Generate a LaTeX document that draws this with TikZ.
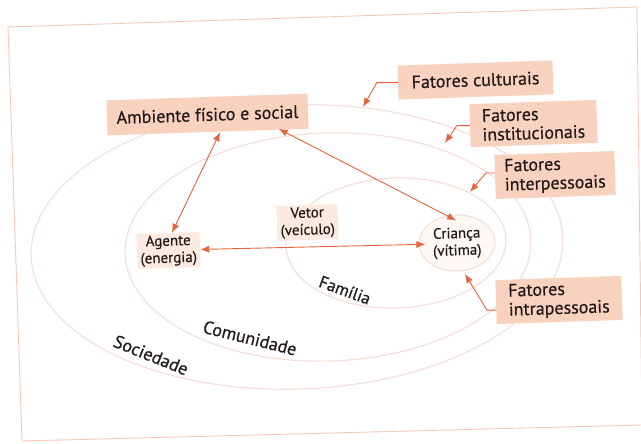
\documentclass[tikz,border=0pt]{standalone}
\usepackage{fontspec}
\setmainfont{PT Sans}[FakeBold=0.5]
\usetikzlibrary{arrows.meta,shapes.geometric}
\definecolor{boxfill}{HTML}{F8D2BF}
\definecolor{palefill}{HTML}{FCEAE0}
\definecolor{ringcol}{HTML}{F5E0D9}
\definecolor{framecol}{HTML}{F4C8B8}
\definecolor{arrowcol}{HTML}{E5643C}
\definecolor{txt}{HTML}{221A1A}
\begin{document}
\begin{tikzpicture}[x=1pt,y=-1pt,
  bigbox/.style={fill=boxfill,text=txt,rotate=1.9,inner xsep=6pt,inner ysep=3pt,align=left,
    font=\fontsize{18}{19}\selectfont},
  smallbox/.style={fill=palefill,text=txt,rotate=1.9,inner sep=2pt,align=center,
    font=\fontsize{15}{17}\selectfont},
  ring/.style={draw=ringcol,line width=1.2pt},
  ringlabel/.style={text=txt,font=\fontsize{18}{20}\selectfont,inner sep=0pt},
  arr/.style={draw=arrowcol,line width=0.9pt,-{Latex[length=9pt,width=7pt]}},
  dbl/.style={draw=arrowcol,line width=0.9pt,{Latex[length=9pt,width=7pt]}-{Latex[length=9pt,width=7pt]}}]
\useasboundingbox (0,0) rectangle (641,444);
\fill[white] (0,0) rectangle (641,444);
\begin{scope}
  \clip (0,0) rectangle (641,444);
  \draw[framecol,line width=0.9pt] (8,27) -- (637,7) -- (642,425) -- (22,441) -- cycle;
\end{scope}
% rings
\draw[ring,rotate around={2:(297,247)}] (297,247) ellipse [x radius=266, y radius=142];
\draw[ring,rotate around={2:(328,247)}] (328,247) ellipse [x radius=203, y radius=114];
\draw[ring,rotate around={2:(396,243)}] (396,243) ellipse [x radius=110, y radius=65];
% ring labels
\node[ringlabel,font=\fontsize{17}{19}\selectfont,rotate=-20] (fam) at (345,290) {Família};
\node[ringlabel,rotate=-14] (com) at (250,338) {Comunidade};
\node[ringlabel,rotate=-22] (soc) at (151,355) {Sociedade};
% boxes
\node[bigbox,minimum width=201pt,minimum height=35pt] (amb) at (207.5,114.5) {Ambiente físico e social};
\node[bigbox,minimum width=155pt,minimum height=34pt] (cult) at (475.5,80) {Fatores culturais};
\node[bigbox,minimum width=127pt,minimum height=43pt] (inst) at (533.5,123.5) {Fatores\\institucionais};
\node[bigbox,minimum width=120pt,minimum height=44pt] (inter) at (555,175) {Fatores\\interpessoais};
\node[bigbox,minimum width=126pt,minimum height=44pt] (intra) at (559,300) {Fatores\\intrapessoais};
\node[smallbox,minimum width=63pt,minimum height=35pt] (ag) at (168.5,250.5) {Agente\\(energia)};
\node[smallbox,minimum width=61pt,minimum height=35pt] (vet) at (307.5,222.5) {Vetor\\(veículo)};
\node[ellipse,draw=ringcol,line width=1.2pt,fill=palefill!35,rotate=1.9,
  minimum width=76pt,minimum height=56pt,inner sep=0pt] (cr) at (457,243) {};
\node[text=txt,rotate=1.9,inner sep=0pt,align=center,
  font=\fontsize{15}{17}\selectfont] (crt) at (cr.center) {Criança\\(vítima)};
% factor arrows
\coordinate (t1) at (363,107);
\coordinate (t2) at (445,143);
\coordinate (t3) at (470,192);
\coordinate (t4) at (465,274);
\draw[arr] (cult.west) -- ++(-21,0) -- (t1);
\draw[arr] (inst.west) -- ++(-13,0) -- (t2);
\draw[arr] ([yshift=4pt]inter.west) -- ++(-9,0) -- (t3);
\draw[arr] ([yshift=-8pt]intra.west) -- ++(-9,0) -- (t4);
% relations
\draw[dbl] ([xshift=12pt]amb.south) -- ([xshift=4pt]ag.north);
\draw[dbl] ([xshift=-30pt]amb.south east) -- ([yshift=-6pt]cr.north);
\draw[dbl] (ag.east) -- ([xshift=7pt]cr.west);
\end{tikzpicture}
\end{document}
